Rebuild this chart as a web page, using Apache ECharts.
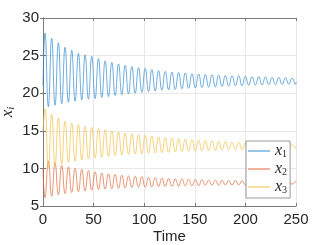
<!DOCTYPE html>
<html><head><meta charset="utf-8">
<script src="https://cdn.jsdelivr.net/npm/echarts@6/dist/echarts.min.js"></script>
<style>html,body{margin:0;padding:0;background:#fff}#c{width:327px;height:245px}</style>
</head><body><div id="c"></div>
<script>
// Times of successive extrema (even index: x1 peak, odd index: x1 trough)
const extremeTimes = [2,5.3,8.6,11.9,15.2,18.5,21.8,25.1,28.4,31.7,35,38.3,41.6,44.9,48.2,51.5,54.8,58.1,61.4,64.7,68,71.3,74.6,77.9,81.2,84.5,87.8,91.1,94.4,97.7,101,104.3,107.6,110.9,114.2,117.5,120.8,124.1,127.4,130.7,134,137.3,140.6,143.9,147.2,150.5,153.8,157.1,160.4,163.7,167,170.3,173.6,176.9,180.2,183.5,186.8,190.1,193.4,196.7,200,203.3,206.6,209.9,213.2,216.5,219.8,223.1,226.4,229.7,233,236.3,239.6,242.9,246.2,249.5];
const tStart = 0, tEnd = 250;

const x1Start = 21, x1End = 21.5;
const x1Even = [28.0,27.3,26.7,26.1,25.7,25.3,25.1,24.9,24.6,24.3,24.1,23.9,23.7,23.55,23.4,23.3,23.15,23.0,22.9,22.8,22.75,22.7,22.6,22.55,22.5,22.45,22.4,22.35,22.3,22.3,22.25,22.2,22.2,22.15,22.1,22.1,22.05,22.0];
const x1Odd = [18.2,18.4,18.6,18.8,18.95,19.1,19.2,19.3,19.45,19.55,19.7,19.8,19.9,20.0,20.1,20.2,20.3,20.4,20.45,20.5,20.6,20.65,20.7,20.75,20.8,20.85,20.9,20.95,21.0,21.0,21.05,21.1,21.1,21.15,21.15,21.2,21.2,21.2];

const x2Start = 10, x2End = 8.1;
const x2Even = [6.1,6.3,6.5,6.65,6.8,6.9,7.0,7.1,7.2,7.25,7.3,7.35,7.4,7.45,7.5,7.5,7.55,7.6,7.6,7.65,7.65,7.7,7.7,7.7,7.75,7.75,7.75,7.8,7.8,7.8,7.8,7.85,7.85,7.85,7.9,7.9,7.9,7.9];
const x2Odd = [11.0,10.7,10.4,10.2,10.0,9.85,9.7,9.55,9.4,9.3,9.2,9.1,9.0,8.95,8.9,8.8,8.75,8.7,8.65,8.6,8.6,8.55,8.5,8.5,8.45,8.45,8.4,8.4,8.4,8.35,8.35,8.3,8.3,8.3,8.3,8.25,8.25,8.25];

const x3Start = 15, x3End = 12.9;
const x3Even = [17.9,17.2,16.7,16.3,16.0,15.8,15.6,15.45,15.3,15.15,15.0,14.85,14.7,14.6,14.5,14.4,14.3,14.2,14.1,14.0,13.95,13.9,13.8,13.75,13.7,13.65,13.6,13.55,13.5,13.45,13.4,13.35,13.3,13.3,13.25,13.2,13.2,13.15];
const x3Odd = [10.1,10.4,10.6,10.8,10.95,11.1,11.25,11.4,11.5,11.6,11.7,11.8,11.85,11.9,11.95,12.0,12.05,12.1,12.15,12.2,12.25,12.3,12.3,12.35,12.4,12.4,12.45,12.5,12.5,12.5,12.55,12.6,12.6,12.6,12.65,12.65,12.7,12.7];

const seriesNames = ['x1','x2','x3'];
const xTicks = {min:0, max:250, interval:50};
const yTicks = {min:5, max:30, interval:5};

function build(start, even, odd, end){
  const d = [[tStart, start]];
  extremeTimes.forEach((t,i)=>{ d.push([t, i%2===0 ? even[i/2] : odd[(i-1)/2]]); });
  d.push([tEnd, end]);
  return d;
}
const colors = ['#2f8ad0','#e0693a','#f0be40'];
const font = 'Liberation Sans, Arial, sans-serif';
const serif = '"Liberation Serif", "DejaVu Serif", serif';
const axisCol = '#7a7a7a';
const chart = echarts.init(document.getElementById('c'), null, {renderer:'canvas'});
const mk = (name, data, c) => ({name, type:'line', data, smooth:0.5, symbol:'none', showSymbol:false,
  lineStyle:{width:0.7, color:c}, itemStyle:{color:c}, animation:false});
chart.setOption({
  animation:false,
  color: colors,
  grid:{left:43, right:31, top:18, bottom:39, containLabel:false, outerBoundsMode:'none'},
  xAxis:[{type:'value', min:xTicks.min, max:xTicks.max, interval:xTicks.interval,
    name:'Time', nameLocation:'middle', nameGap:23, nameMoveOverlap:false,
    nameTextStyle:{fontFamily:font, fontSize:15, color:'#262626'},
    axisLine:{lineStyle:{color:axisCol, width:1}},
    axisTick:{inside:true, length:3, lineStyle:{color:axisCol}},
    axisLabel:{fontFamily:font, fontSize:15, color:'#262626', margin:6},
    splitLine:{show:true, lineStyle:{color:'#e8e8e8', width:1}}},
   {type:'value', position:'top', min:xTicks.min, max:xTicks.max, interval:xTicks.interval,
    axisLine:{show:true, lineStyle:{color:axisCol, width:1}},
    axisTick:{show:true, inside:true, length:3, lineStyle:{color:axisCol}},
    axisLabel:{show:false}, splitLine:{show:false}}],
  yAxis:[{type:'value', min:yTicks.min, max:yTicks.max, interval:yTicks.interval,
    name:'{v|x}{s|i}', nameLocation:'middle', nameGap:26, nameRotate:90, nameMoveOverlap:false,
    nameTextStyle:{rich:{v:{fontFamily:serif, fontStyle:'italic', fontSize:17, color:'#262626'},
      s:{fontFamily:serif, fontStyle:'italic', fontSize:11, color:'#262626', padding:[8,0,0,0]}}},
    axisLine:{show:true, lineStyle:{color:axisCol, width:1}},
    axisTick:{show:true, inside:true, length:3, lineStyle:{color:axisCol}},
    axisLabel:{fontFamily:font, fontSize:15, color:'#262626', margin:4},
    splitLine:{show:true, lineStyle:{color:'#e8e8e8', width:1}}},
   {type:'value', position:'right', min:yTicks.min, max:yTicks.max, interval:yTicks.interval,
    axisLine:{show:true, lineStyle:{color:axisCol, width:1}},
    axisTick:{show:true, inside:true, length:3, lineStyle:{color:axisCol}},
    axisLabel:{show:false}, splitLine:{show:false}}],
  legend:{orient:'vertical', left:246, top:141, icon:'rect', itemWidth:22, itemHeight:1, itemGap:2,
    backgroundColor:'#fff', borderColor:'#999', borderWidth:1, borderRadius:0, padding:[2,3,3,2],
    data: seriesNames,
    formatter: n => '{v|x}{s|' + n.slice(1) + '}',
    textStyle:{rich:{v:{fontFamily:serif, fontStyle:'italic', fontSize:16, lineHeight:16, color:'#262626'},
      s:{fontFamily:serif, fontSize:10, lineHeight:10, color:'#262626', padding:[6,0,0,0]}}}},
  series:[
    mk(seriesNames[0], build(x1Start, x1Even, x1Odd, x1End), colors[0]),
    mk(seriesNames[1], build(x2Start, x2Even, x2Odd, x2End), colors[1]),
    mk(seriesNames[2], build(x3Start, x3Even, x3Odd, x3End), colors[2])
  ]
});
</script></body></html>
